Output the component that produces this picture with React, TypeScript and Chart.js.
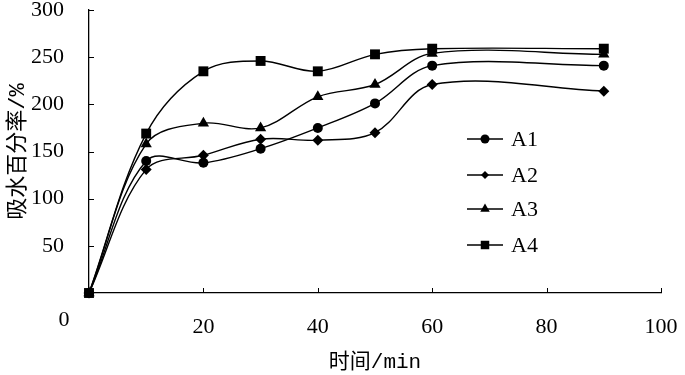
import React, { useEffect, useRef } from 'react';
import { Chart, registerables } from 'chart.js';

Chart.register(...registerables);

const times = [0, 10, 20, 30, 40, 50, 60, 90];
const seriesNames = ['A1', 'A2', 'A3', 'A4'];
const a1 = [0, 140, 138, 153, 175, 201, 241, 241];
const a2 = [0, 131, 146, 163, 162, 170, 221, 214];
const a3 = [0, 158, 180, 175, 208, 221, 254, 253];
const a4 = [0, 169, 235, 246, 235, 253, 259, 259];
const xTicks = [0, 20, 40, 60, 80, 100];
const yTicks = [0, 50, 100, 150, 200, 250, 300];

const NUM_FONT = "'Liberation Serif', 'Times New Roman', serif";
const CJK_FONT = "'Liberation Mono', 'Noto Sans CJK SC', monospace";

const markerStyles = ['circle', 'rectRot', 'triangle', 'rect'];
const markerRadii = [5, 5.5, 6.5, 7];
const legendRadii = [4.5, 4, 5.5, 6];

function drawMarker(ctx: CanvasRenderingContext2D, style: string, x: number, y: number, r: number) {
  ctx.beginPath();
  if (style === 'circle') {
    ctx.arc(x, y, r, 0, Math.PI * 2);
  } else if (style === 'rectRot') {
    ctx.moveTo(x, y - r);
    ctx.lineTo(x + r, y);
    ctx.lineTo(x, y + r);
    ctx.lineTo(x - r, y);
    ctx.closePath();
  } else if (style === 'triangle') {
    ctx.moveTo(x, y - r);
    ctx.lineTo(x + r * 0.866, y + r * 0.5);
    ctx.lineTo(x - r * 0.866, y + r * 0.5);
    ctx.closePath();
  } else {
    const s = r * Math.SQRT1_2;
    ctx.rect(x - s, y - s, 2 * s, 2 * s);
  }
  ctx.fill();
}

const decorPlugin = {
  id: 'decor',
  afterDraw(chart: any) {
    const ctx: CanvasRenderingContext2D = chart.ctx;
    const xs = chart.scales.x;
    const ys = chart.scales.y;
    const area = chart.chartArea;
    ctx.save();
    ctx.strokeStyle = '#000';
    ctx.lineWidth = 1;
    xTicks.forEach((v) => {
      if (v === 0) return;
      const px = Math.round(xs.getPixelForValue(v)) + 0.5;
      ctx.beginPath();
      ctx.moveTo(px, area.bottom);
      ctx.lineTo(px, area.bottom - 5);
      ctx.stroke();
    });
    yTicks.forEach((v) => {
      if (v === 0) return;
      const py = Math.round(ys.getPixelForValue(v)) + 0.5;
      ctx.beginPath();
      ctx.moveTo(area.left, py);
      ctx.lineTo(area.left + 5, py);
      ctx.stroke();
    });
    ctx.fillStyle = '#000';
    ctx.font = `22px ${NUM_FONT}`;
    ctx.textAlign = 'center';
    ctx.textBaseline = 'middle';
    ctx.fillText('0', area.left - 25, area.bottom + 27);
    const lx = 467;
    const ly = [139, 175, 209, 245];
    seriesNames.forEach((name, i) => {
      const y = ly[i];
      ctx.lineWidth = 1.5;
      ctx.beginPath();
      ctx.moveTo(lx, y);
      ctx.lineTo(lx + 36, y);
      ctx.stroke();
      drawMarker(ctx, markerStyles[i], lx + 18, y, legendRadii[i]);
      ctx.textAlign = 'left';
      ctx.fillText(name, lx + 44, y + 1);
    });
    ctx.restore();
  },
};

export default function App() {
  const ref = useRef<HTMLCanvasElement | null>(null);

  useEffect(() => {
    document.body.style.margin = '0';
    const seriesData = [a1, a2, a3, a4];
    const chart = new Chart(ref.current as HTMLCanvasElement, {
      type: 'line',
      data: {
        datasets: seriesData.map((vals, i) => ({
          label: seriesNames[i],
          data: times.map((t, j) => ({ x: t, y: vals[j] })),
          borderColor: '#000',
          backgroundColor: '#000',
          borderWidth: 1.4,
          pointStyle: markerStyles[i] as any,
          pointRadius: markerRadii[i],
          pointBorderWidth: 0,
          pointBackgroundColor: '#000',
          tension: 0.35,
          clip: false as any,
          fill: false,
        })),
      },
      options: {
        responsive: false,
        animation: false,
        events: [],
        layout: { padding: { left: 0, right: 24, top: 10, bottom: 0 } },
        plugins: {
          legend: { display: false },
          tooltip: { enabled: false },
        },
        scales: {
          x: {
            type: 'linear',
            min: 0,
            max: 100,
            afterBuildTicks: (s: any) => {
              s.ticks = xTicks.map((v) => ({ value: v }));
            },
            ticks: {
              color: '#000',
              font: { family: NUM_FONT, size: 22 },
              padding: 13,
              maxRotation: 0,
              callback: (v: any) => (v === 0 ? '' : String(v)),
            },
            grid: { display: false },
            border: { display: true, color: '#000', width: 1.3 },
            title: {
              display: true,
              text: '时间/min',
              color: '#000',
              font: { family: CJK_FONT, size: 21 },
              padding: { top: 8, bottom: 0 },
            },
            afterFit: (s: any) => {
              s.height = 82;
              s.paddingLeft = 0;
              s.paddingRight = 0;
            },
          },
          y: {
            type: 'linear',
            min: 0,
            max: 300,
            afterBuildTicks: (s: any) => {
              s.ticks = yTicks.map((v) => ({ value: v }));
            },
            ticks: {
              color: '#000',
              font: { family: NUM_FONT, size: 22 },
              padding: 17,
              callback: (v: any) => (v === 0 ? '' : String(v)),
            },
            grid: { display: false },
            border: { display: true, color: '#000', width: 1.3 },
            title: {
              display: true,
              text: '吸水百分率/%',
              color: '#000',
              font: { family: CJK_FONT, size: 22 },
              padding: { top: 5, bottom: 0 },
            },
            afterFit: (s: any) => {
              s.width = 89;
              s.paddingTop = 0;
              s.paddingBottom = 0;
            },
          },
        },
      },
      plugins: [decorPlugin],
    });
    return () => chart.destroy();
  }, []);

  return (
    <div style={{ position: 'fixed', left: 0, top: 0, width: 685, height: 375, background: '#fff' }}>
      <canvas ref={ref} width={685} height={375} />
    </div>
  );
}
